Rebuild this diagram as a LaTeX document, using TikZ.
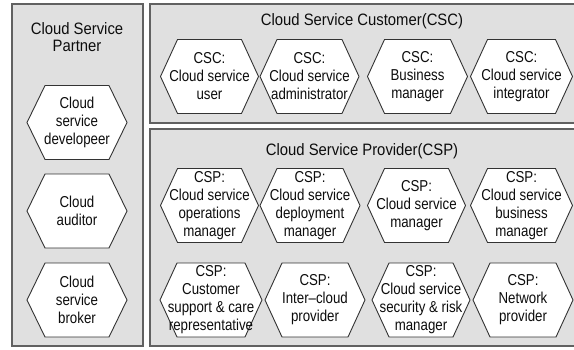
\documentclass[tikz,border=0pt]{standalone}
\usepackage{fontspec}
\setmainfont{Liberation Sans}[FakeStretch=0.9]
\newfontfamily\hexfont{Liberation Sans}[FakeStretch=0.84,Ligatures=TeX]
\usetikzlibrary{calc}
\newcommand\hexa[6]{%
  \path[hexline] (#2-#4,#3) -- (#2-#4+#5,#3-37) -- (#2+#4-#5,#3-37) -- (#2+#4,#3)
    -- (#2+#4-#5,#3+37) -- (#2-#4+#5,#3+37) -- cycle;
  \node[hextext] (#1) at (#2,#3) {#6};}
\begin{document}
\begin{tikzpicture}[x=1pt,y=-1pt,
  panel/.style={draw=black!62, line width=1.7pt, fill=black!12},
  hexline/.style={draw=black!80, line width=0.9pt, fill=white},
  hextext/.style={inner sep=0pt, align=center, text=black!95,
    font=\hexfont\fontsize{15.8}{18}\selectfont},
  title/.style={inner sep=0pt, align=center, text=black!95,
    font=\fontsize{16.5}{17}\selectfont}]
\clip (0,0) rectangle (574,349);
\fill[white] (0,0) rectangle (574,349);
% panels
\path[panel] (12,4) rectangle (143,346);
\path[panel] (150,4) rectangle (580,123);
\path[panel] (150,129) rectangle (580,346);
% titles
\node[title] (tp) at (77,37) {Cloud Service\\Partner};
\node[title] (tc) at (362,21) {Cloud Service Customer(CSC)};
\node[title] (ts) at (362,151) {Cloud Service Provider(CSP)};
% partner hexagons
\hexa{p1}{77}{122.5}{50}{18}{Cloud\\service\\developeer}
\hexa{p2}{77}{211}{50}{18}{Cloud\\auditor}
\hexa{p3}{77}{300}{50}{18}{Cloud\\service\\broker}
% CSC hexagons
\hexa{c1}{209.5}{76.5}{49}{17}{CSC:\\Cloud service\\user}
\hexa{c2}{309.5}{76.5}{49.5}{17}{CSC:\\Cloud service\\administrator}
\hexa{c3}{417.5}{76.5}{50}{17}{CSC:\\Business\\manager}
\hexa{c4}{521.5}{76.5}{51}{17}{CSC:\\Cloud service\\integrator}
% CSP row 1
\hexa{s1}{209.5}{205.5}{49}{17}{CSP:\\Cloud service\\operations\\manager}
\hexa{s2}{310}{205.5}{50}{17}{CSP:\\Cloud service\\deployment\\manager}
\hexa{s3}{416.5}{205.5}{49}{17}{CSP:\\Cloud service\\manager}
\hexa{s4}{521.5}{205.5}{51}{17}{CSP:\\Cloud service\\business\\manager}
% CSP row 2
\hexa{s5}{211}{300}{51}{17}{CSP:\\Customer\\support \& care\\representative}
\hexa{s6}{315}{300}{50}{17}{CSP:\\Inter\textendash cloud\\provider}
\hexa{s7}{421}{300}{49}{17}{CSP:\\Cloud service\\security \& risk\\manager}
\hexa{s8}{523}{300}{50}{17}{CSP:\\Network\\provider}
\end{tikzpicture}
\end{document}
